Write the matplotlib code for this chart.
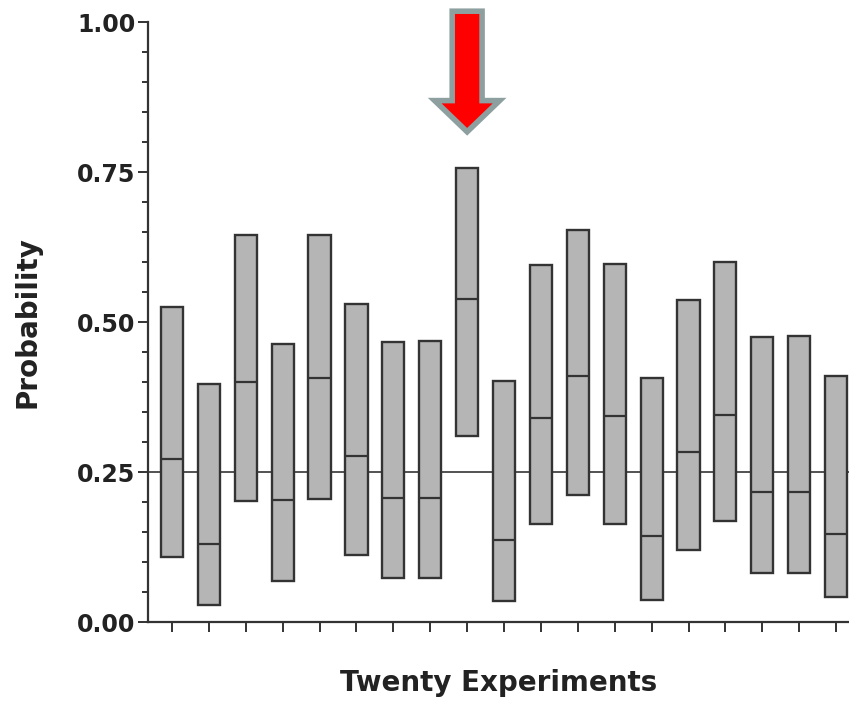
import matplotlib
matplotlib.use("Agg")
import matplotlib.pyplot as plt
from matplotlib.patches import FancyArrow
from matplotlib.ticker import MultipleLocator
import numpy as np

# Data: 19 visible experiments (20th cropped off)
experiments = list(range(1, 20))
lower = [0.108, 0.028, 0.202, 0.068, 0.205, 0.112, 0.073, 0.073, 0.310, 0.035,
         0.163, 0.212, 0.163, 0.037, 0.120, 0.168, 0.082, 0.082, 0.042]
upper = [0.525, 0.397, 0.645, 0.463, 0.645, 0.530, 0.467, 0.468, 0.757, 0.402,
         0.595, 0.653, 0.597, 0.407, 0.537, 0.600, 0.475, 0.477, 0.410]
estimate = [0.272, 0.130, 0.400, 0.203, 0.407, 0.277, 0.207, 0.207, 0.538, 0.137,
            0.340, 0.410, 0.343, 0.143, 0.283, 0.345, 0.217, 0.217, 0.147]
true_value = 0.25
highlight = 9

yticks = [0.00, 0.25, 0.50, 0.75, 1.00]
ytick_labels = ["0.00", "0.25", "0.50", "0.75", "1.00"]

plt.rcParams['font.family'] = ['DejaVu Sans']

fig = plt.figure(figsize=(8.49, 7.01), dpi=100)
ax = fig.add_axes([148/849, 1 - 622/701, (849 - 148)/849, 600/701])

edge = '#333333'
ax.axhline(true_value, color='#444444', lw=1.3, zorder=1)

x = np.array(experiments)
lo = np.array(lower)
hi = np.array(upper)
ax.bar(x, hi - lo, bottom=lo, width=0.6, color='#b5b5b5', edgecolor=edge,
       linewidth=1.7, zorder=2)
ax.hlines(estimate, x - 0.3, x + 0.3, color=edge, lw=1.6, zorder=3)

ax.set_xlim(0.35, 19.35)
ax.set_ylim(0, 1.0)

ax.set_yticks(yticks)
ax.set_yticklabels(ytick_labels, fontsize=17, fontweight='bold', color='#222222')
ax.yaxis.set_minor_locator(MultipleLocator(0.05))
ax.set_xticks(x)
ax.set_xticklabels([])

for s in ['top', 'right']:
    ax.spines[s].set_visible(False)
for s in ['left', 'bottom']:
    ax.spines[s].set_linewidth(1.6)
    ax.spines[s].set_color(edge)

ax.tick_params(axis='y', which='major', length=7, width=1.4, color=edge, pad=2)
ax.tick_params(axis='y', which='minor', length=4.5, width=1.4, color=edge)
ax.tick_params(axis='x', which='major', length=7, width=1.4, color=edge)

ax.set_xlabel("Twenty Experiments", fontsize=20, fontweight='bold', labelpad=23,
              color='#222222')
ax.set_ylabel("Probability", fontsize=20, fontweight='bold', labelpad=26,
              color='#222222')

arrow = FancyArrow(highlight, 1.018, 0, -0.201, width=0.81, head_width=1.76,
                   head_length=0.052, length_includes_head=True,
                   facecolor='#ff0000', edgecolor='#8e9fa0', linewidth=4,
                   joinstyle='miter', clip_on=False, zorder=5)
ax.add_patch(arrow)

fig.savefig("out.png", dpi=100)
